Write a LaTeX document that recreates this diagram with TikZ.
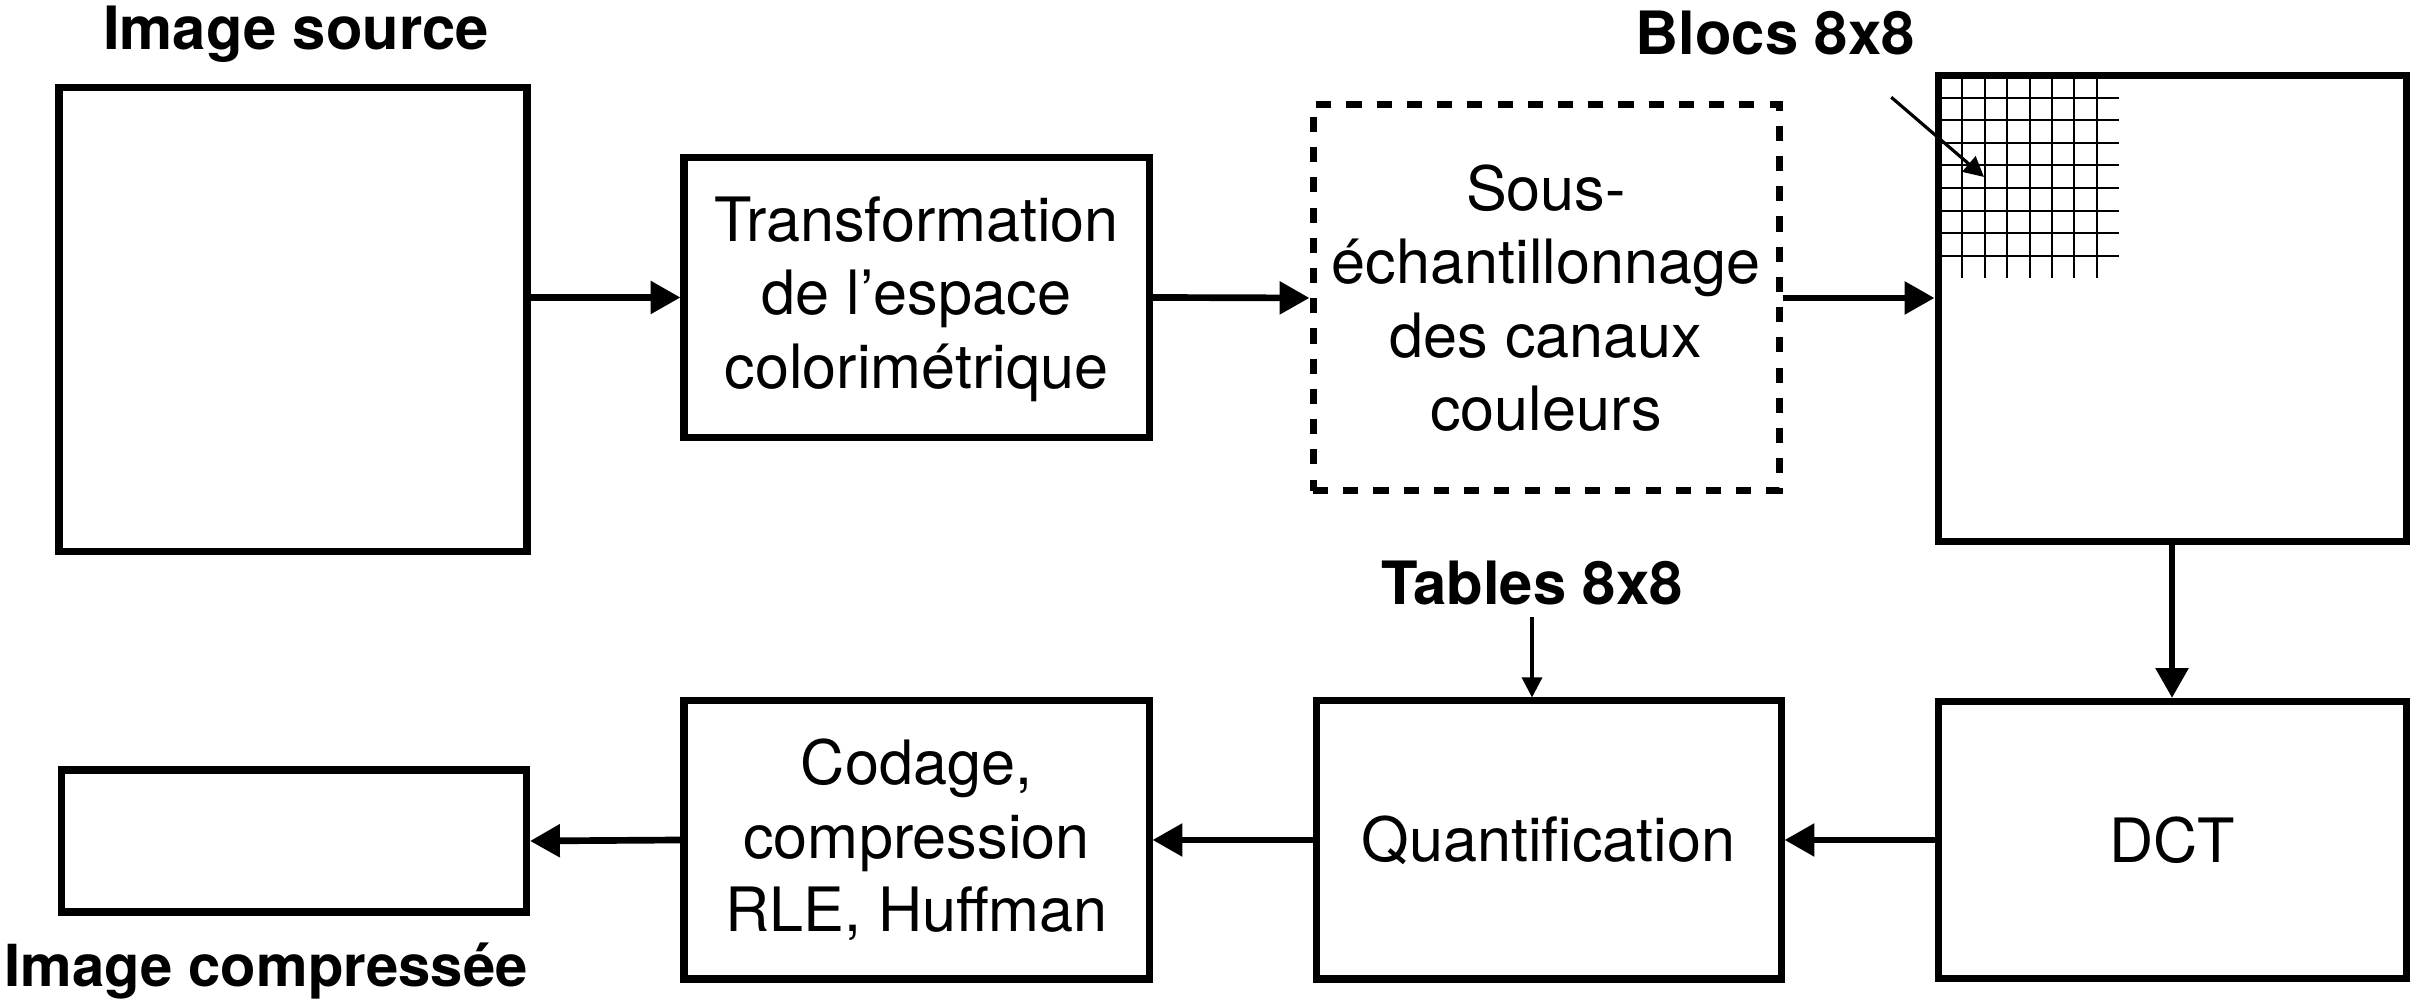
\documentclass[tikz,border=0pt]{standalone}
\usepackage{fontspec}
\setmainfont{TeX Gyre Heros}
\usetikzlibrary{arrows.meta,calc}

\begin{document}
\begin{tikzpicture}[line join=miter,
  box/.style={draw, line width=2pt, rectangle, align=center, inner sep=0pt, font=\fontsize{17.4}{20.9}\selectfont},
  dbox/.style={box, dash pattern=on 4.3pt off 4.3pt},
  lab/.style={inner sep=0pt, anchor=base, font=\fontsize{17}{20}\selectfont\bfseries},
  arr/.style={-{Triangle[length=8.5pt,width=9pt]}, line width=1.9pt},
  thinarr/.style={-{Triangle[length=5.7pt,width=5.7pt]}, line width=0.9pt},
  gridline/.style={line width=0.6pt}]

  \useasboundingbox (0,0) rectangle (24.2,10);

  % 1. top row: source, colour space, subsampling, 8x8 blocks
  \node[box, minimum width=4.68cm, minimum height=4.64cm] (src) at (2.93,6.80) {};
  \node[lab] (srclab) at (2.96,9.50) {Image source};
  \node[box, minimum width=4.65cm, minimum height=2.80cm, text depth=0.1cm] (trans) at (9.165,7.025)
    {Transformation\\de l’espace\\colorimétrique};
  \node[dbox, minimum width=4.66cm, minimum height=3.86cm] (sous) at (15.46,7.02)
    {Sous-\\échantillonnage\\des canaux\\couleurs};
  \node[box, minimum width=4.68cm, minimum height=4.66cm] (blocs) at (21.72,6.91) {};
  \node[lab] (bloclab) at (17.75,9.45) {Blocs 8x8};

  % grid in the corner of the blocks
  \foreach \k in {1,...,8}
    \draw[gridline] (19.38,{9.25-0.226*\k}) -- (21.19,{9.25-0.226*\k});
  \foreach \k in {1,...,7}
    \draw[gridline] ({19.40+0.224*\k},9.24) -- ({19.40+0.224*\k},7.216);
  \coordinate (ptrA) at ($(bloclab.south east)+(-0.24,-0.41)$);
  \coordinate (ptrB) at (19.84,8.23);
  \draw[thinarr] (ptrA) -- (ptrB);

  % 2. bottom row: DCT, quantisation, coding, result
  \node[box, minimum width=4.68cm, minimum height=2.77cm] (dct) at (21.72,1.60) {DCT};
  \node[box, minimum width=4.65cm, minimum height=2.78cm] (quant) at (15.485,1.60) {Quantification};
  \node[lab] (tablab) at (15.32,3.95) {Tables 8x8};
  \node[box, minimum width=4.65cm, minimum height=2.78cm] (codage) at (9.165,1.60)
    {Codage,\\compression\\RLE, Huffman};
  \node[box, minimum width=4.65cm, minimum height=1.42cm] (comp) at (2.94,1.59) {};
  \node[lab, font=\fontsize{16.5}{19.8}\selectfont\bfseries] (complab) at (2.66,0.133) {Image compressée};

  % 3. arrows
  \draw[arr] (src.east |- trans.west) -- (trans.west);
  \draw[arr] (trans.east) -- (sous.west);
  \draw[arr] (sous.east) -- (sous.east -| blocs.west);
  \draw[arr] (blocs.south) -- (dct.north);
  \draw[arr] (dct.west) -- (quant.east);
  \draw[arr] (quant.west) -- (codage.east);
  \draw[arr] (codage.west) -- (comp.east);
  \draw[thinarr] ([yshift=-0.11cm]tablab.south) -- (tablab.south |- quant.north);

\end{tikzpicture}
\end{document}
